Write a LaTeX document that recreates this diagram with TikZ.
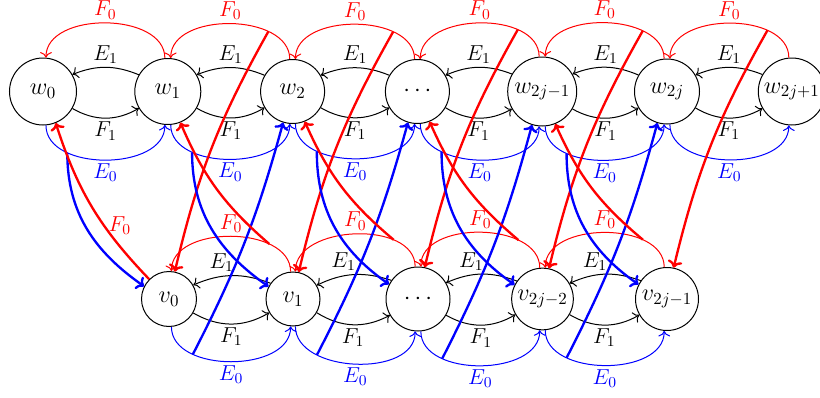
\RequirePackage{fix-cm}
\documentclass[tikz,border=0pt]{standalone}
\usetikzlibrary{arrows.meta}
\begin{document}
\begin{tikzpicture}[x=0.6pt,y=-0.6pt,
  st/.style={circle,draw,line width=0.6pt,inner sep=0pt,font=\fontsize{14.5}{17}\selectfont},
  lab/.style={font=\fontsize{13}{15}\selectfont,inner sep=2pt},
  blk/.style={draw=black,line width=0.6pt,-{To[scale=1.15]}},
  rdthin/.style={red,line width=0.6pt,-{To[scale=1.15]}},
  blthin/.style={blue,line width=0.6pt,-{To[scale=1.15]}},
  rdT/.style={red,line width=1.4pt,-{To[scale=0.9]}},
  blT/.style={blue,line width=1.4pt,-{To[scale=0.9]}}]
\useasboundingbox (0,0) rectangle (820,398);
% top row
\node[st,minimum size=40.2pt] (w0) at (43,91.5) {$w_0$};
\node[st,minimum size=39.6pt] (w1) at (167.8,91.5) {$w_1$};
\node[st,minimum size=38.4pt] (w2) at (292.6,91.5) {$w_2$};
\node[st,minimum size=38.4pt] (w3) at (417.4,91.5) {$\cdots$};
\node[st,minimum size=41.4pt] (w4) at (542.2,91.5) {$w_{2j-1}$};
\node[st,minimum size=39pt] (w5) at (667,91.5) {$w_{2j}$};
\node[st,minimum size=40.2pt] (w6) at (791.8,91.5) {$w_{2j+1}$};
% bottom row
\node[st,minimum size=33pt] (v0) at (169,299) {$v_0$};
\node[st,minimum size=32.4pt] (v1) at (293,299) {$v_1$};
\node[st,minimum size=38.4pt] (v2) at (418,299) {$\cdots$};
\node[st,minimum size=37pt] (v3) at (542.5,299) {$v_{2j-2}$};
\node[st,minimum size=37.8pt] (v4) at (667,299) {$v_{2j-1}$};
% top arcs
\foreach \k/\n in {0/1,1/2,2/3,3/4,4/5,5/6}{
  \draw[blk] (w\n.150) to[bend right=22] node[lab,above]{$E_1$} (w\k.30);
  \draw[blk] (w\k.-30) to[bend right=30] node[lab,below]{$F_1$} (w\n.210);
  \draw[rdthin] (w\n.95) to[out=90,in=90] node[lab,above]{$F_0$} node[coordinate,pos=0.27](fa\k){} (w\k.85);
  \draw[blthin] (w\k.-85) to[out=-90,in=-90] node[lab,below]{$E_0$} node[coordinate,pos=0.27](ea\k){} (w\n.-95);
}
% bottom arcs
\foreach \k/\n in {0/1,1/2,2/3,3/4}{
  \draw[blk] (v\n.145) to[bend right=22] node[lab,above,xshift=-6pt]{$E_1$} (v\k.30);
  \draw[blk] (v\k.-30) to[bend right=30] node[lab,below]{$F_1$} (v\n.210);
  \draw[rdthin] (v\n.95) to[out=90,in=90] node[lab,above]{$F_0$} node[coordinate,pos=0.27](fb\k){} (v\k.85);
  \draw[blthin] (v\k.-85) to[out=-90,in=-90] node[lab,below]{$E_0$} node[coordinate,pos=0.27](eb\k){} (v\n.-95);
}
% thick connectors
\foreach \k/\m in {1/0,2/1,3/2,4/3,5/4}
  \draw[rdT] (fa\k) to[bend right=8] (v\m.78);
\foreach \k/\m in {0/2,1/3,2/4,3/5}
  \draw[blT] (eb\k) to[bend right=6] (w\m.-107);
\foreach \k in {0,...,4}
  \draw[blT] (ea\k) to[out=-90,in=145] (v\k.153);
\foreach \k/\m in {0/1,1/2,2/3,3/4}
  \draw[rdT] (fb\k) to[bend left=13] (w\m.-68);
\draw[rdT] (v0.135) to[bend left=13] node[lab,pos=0.37,right=0pt]{$F_0$} (w0.-68);
\end{tikzpicture}
\end{document}
